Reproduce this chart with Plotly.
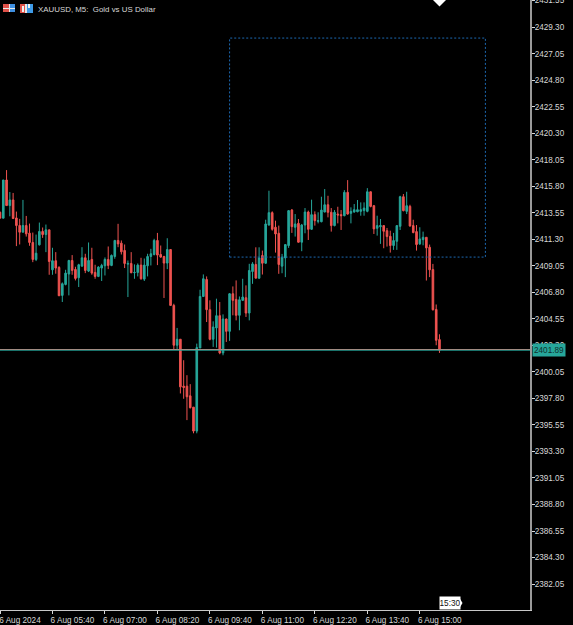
import pandas as pd
import plotly.graph_objects as go

opens = [2413.59,2413.09,2416.33,2414.16,2414.64,2413.11,2412.47,2411.90,2412.47,2411.82,2411.03,2409.59,2410.83,2411.96,2411.70,2412.10,2408.71,2409.48,2408.91,2406.54,
2407.47,2408.35,2409.50,2408.74,2408.04,2409.02,2409.73,2408.60,2409.59,2408.49,2408.15,2408.86,2409.05,2409.59,2409.08,2409.84,2411.20,2410.97,2410.35,2409.19,
2409.25,2408.46,2408.49,2409.11,2407.92,2409.05,2409.84,2410.01,2411.20,2410.01,2409.84,2409.28,2410.43,2405.69,2402.31,2402.82,2398.84,2398.84,2398.02,2397.06,
2395.03,2402.08,2406.45,2407.89,2405.33,2402.82,2403.78,2404.82,2401.66,2404.54,2403.49,2406.68,2406.20,2404.85,2406.12,2406.34,2405.04,2408.57,2409.16,2408.00,
2409.92,2409.27,2412.51,2413.56,2412.32,2411.81,2409.02,2409.72,2410.77,2413.78,2412.32,2412.65,2411.05,2412.51,2413.61,2412.15,2413.39,2412.82,2412.79,2413.61,
2414.23,2413.59,2412.46,2413.44,2413.39,2413.30,2415.28,2413.50,2413.61,2413.64,2413.67,2413.73,2413.67,2415.33,2414.15,2412.23,2412.37,2412.46,2412.03,2411.55,
2410.77,2411.13,2412.40,2414.91,2413.67,2414.09,2412.46,2411.95,2410.91,2411.27,2411.47,2410.62,2408.73,2405.35,2402.79]
highs = [2413.65,2416.33,2417.17,2415.31,2415.23,2413.65,2413.03,2414.64,2413.28,2412.63,2411.87,2411.70,2412.72,2412.30,2412.55,2412.10,2410.58,2410.21,2409.02,2407.64,
2408.71,2409.56,2409.96,2408.97,2409.22,2410.63,2410.07,2411.03,2410.58,2409.14,2409.02,2409.22,2409.76,2410.69,2410.01,2411.25,2412.61,2411.20,2410.86,2409.50,
2410.21,2409.17,2409.25,2409.73,2409.67,2410.07,2410.49,2411.34,2411.84,2410.77,2409.90,2411.39,2410.43,2405.83,2403.78,2402.82,2401.04,2399.77,2399.01,2397.06,
2402.45,2407.02,2408.32,2408.15,2406.12,2404.34,2406.26,2405.98,2404.93,2404.57,2406.74,2407.30,2407.81,2406.45,2407.95,2407.39,2409.22,2409.36,2410.62,2410.62,
2410.34,2412.96,2415.42,2413.67,2412.88,2412.46,2410.06,2410.85,2413.78,2413.87,2413.44,2413.02,2412.60,2413.95,2413.73,2414.66,2413.67,2413.59,2414.91,2415.56,
2414.99,2413.95,2413.78,2414.06,2413.78,2415.47,2416.32,2414.01,2414.29,2414.63,2414.43,2414.43,2415.64,2415.36,2414.21,2413.30,2413.02,2412.46,2412.26,2412.03,
2411.84,2412.46,2414.99,2415.14,2415.33,2414.23,2412.96,2412.51,2412.32,2411.95,2411.47,2410.85,2409.21,2405.77,2403.24]
lows = [2413.09,2413.09,2414.16,2413.25,2413.03,2410.72,2410.86,2411.90,2411.53,2410.75,2409.36,2409.45,2410.77,2411.42,2410.21,2408.29,2408.29,2408.38,2406.49,2405.98,
2407.39,2406.54,2408.29,2407.81,2407.25,2408.99,2408.43,2408.52,2408.29,2407.95,2408.09,2407.76,2408.23,2408.77,2409.02,2409.65,2410.63,2410.01,2408.86,2406.40,
2408.43,2407.95,2408.15,2407.87,2407.76,2408.15,2409.08,2409.93,2409.11,2409.73,2406.32,2408.77,2405.69,2401.94,2401.94,2398.22,2397.77,2395.96,2396.95,2394.84,
2394.84,2402.08,2406.40,2404.28,2402.73,2402.17,2402.11,2401.55,2401.46,2402.59,2402.68,2404.85,2404.42,2403.58,2406.06,2404.71,2404.42,2407.52,2408.00,2407.95,
2408.31,2409.21,2412.46,2412.03,2410.17,2408.37,2408.42,2408.09,2410.57,2411.84,2411.53,2411.02,2410.29,2411.81,2411.24,2412.09,2412.46,2412.65,2412.74,2413.59,
2413.16,2411.95,2412.40,2412.65,2412.09,2413.25,2413.39,2412.65,2413.56,2413.59,2413.30,2413.30,2413.59,2414.01,2411.75,2411.61,2410.91,2410.54,2410.68,2410.17,
2410.40,2410.40,2412.09,2413.67,2413.44,2412.37,2411.81,2410.34,2410.82,2410.79,2407.80,2408.09,2405.26,2402.31,2401.66]
closes = [2413.09,2416.33,2414.16,2414.64,2413.06,2412.47,2411.90,2412.47,2411.76,2411.03,2409.59,2410.12,2411.96,2411.70,2412.10,2409.42,2409.48,2408.86,2406.51,2407.53,
2408.43,2409.50,2408.66,2407.98,2409.14,2409.73,2408.66,2409.50,2408.43,2408.15,2408.94,2409.08,2409.59,2409.08,2409.93,2411.20,2410.91,2410.24,2409.25,2409.25,
2408.46,2408.49,2409.11,2407.95,2409.11,2409.84,2410.07,2411.20,2409.96,2409.79,2409.28,2410.43,2405.69,2402.31,2402.82,2398.78,2398.73,2397.94,2397.01,2395.03,
2402.11,2406.45,2407.95,2405.33,2402.82,2403.86,2404.82,2401.66,2404.54,2403.49,2406.68,2406.12,2404.85,2406.17,2406.40,2405.04,2408.65,2409.21,2408.00,2409.72,
2409.27,2412.60,2413.56,2412.15,2411.75,2409.16,2409.78,2410.85,2413.73,2412.37,2412.60,2411.05,2412.51,2413.61,2412.15,2413.39,2412.88,2412.88,2413.78,2414.23,
2413.59,2412.46,2413.59,2413.36,2413.30,2415.28,2413.44,2413.67,2413.81,2413.81,2413.81,2413.95,2415.33,2414.09,2412.18,2412.46,2412.46,2411.98,2411.53,2410.77,
2411.19,2412.46,2414.91,2413.73,2414.15,2412.43,2411.87,2410.85,2411.33,2411.47,2410.57,2408.71,2405.32,2402.73,2401.89]

times = pd.date_range("2024-08-06 04:20", periods=len(closes), freq="5min")
tick_times = ["2024-08-06 04:20","2024-08-06 05:40","2024-08-06 07:00","2024-08-06 08:20",
              "2024-08-06 09:40","2024-08-06 11:00","2024-08-06 12:20","2024-08-06 13:40","2024-08-06 15:00"]
tick_labels = ["6 Aug 2024","6 Aug 05:40","6 Aug 07:00","6 Aug 08:20","6 Aug 09:40",
               "6 Aug 11:00","6 Aug 12:20","6 Aug 13:40","6 Aug 15:00"]
price_ticks = [2431.55,2429.30,2427.05,2424.80,2422.55,2420.30,2418.05,2415.80,2413.55,2411.30,2409.05,
               2406.80,2404.55,2402.30,2400.05,2397.80,2395.55,2393.30,2391.05,2388.80,2386.55,2384.30,2382.05]
last_price = 2401.89
ask_price = 2401.95
zone_start, zone_end = "2024-08-06 10:10", "2024-08-06 16:40"
zone_top, zone_bottom = 2428.37, 2409.79

W, H = 573, 625
PW, PH = 530, 610
TEAL, RED, GREY, TXT = "#26a69a", "#ef5350", "#9a9a9a", "#d8d8d8"
FONT = "Liberation Sans"
FS = 8.2

def px(x): return x / PW
def py(y): return 1 - y / PH

fig = go.Figure()
fig.add_trace(go.Candlestick(
    x=times, open=opens, high=highs, low=lows, close=closes,
    increasing=dict(line=dict(color=TEAL, width=1), fillcolor=TEAL),
    decreasing=dict(line=dict(color=RED, width=1), fillcolor=RED),
    whiskerwidth=0, hoverinfo="skip", showlegend=False))
fig.add_trace(go.Scatter(x=[times[-1]], y=[2431.6], mode="markers", hoverinfo="skip", showlegend=False,
                         marker=dict(symbol="diamond", size=10, color="white")))

shapes = [
    dict(type="rect", x0=zone_start, x1=zone_end, y0=zone_bottom, y1=zone_top, xref="x", yref="y",
         line=dict(color="#1c68b0", width=1, dash="2px,2px"), fillcolor="rgba(0,0,0,0)"),
    dict(type="line", xref="paper", x0=0, x1=1, yref="y", y0=ask_price, y1=ask_price, line=dict(color="#d98078", width=1)),
    dict(type="line", xref="paper", x0=0, x1=1, yref="y", y0=last_price, y1=last_price, line=dict(color=TEAL, width=1)),
]
def box(x0, y0, x1, y1, color):
    shapes.append(dict(type="rect", xref="paper", yref="paper", x0=px(x0), x1=px(x1), y0=py(y1), y1=py(y0),
                       fillcolor=color, line=dict(width=0), layer="above"))
# header icons
box(3, 4, 15, 12, "#e8e8e8"); box(3, 4, 9, 8, "#e0524a"); box(3, 9, 9, 12, "#e0524a")
box(10, 4, 15, 8, "#3f8fe0"); box(10, 9, 15, 12, "#3f8fe0")
box(20, 4, 33, 13, "#e8e8e8"); box(20, 4, 25, 13, "#e0524a"); box(22, 6, 24, 12, "#f0f0f0")
box(27, 4, 33, 13, "#3f9be8"); box(28, 4, 30, 8, "#f0f0f0")
# time flag tip
shapes.append(dict(type="path", xref="paper", yref="paper", layer="above", fillcolor="white", line=dict(width=0),
                   path=f"M {px(459)} {py(597)} L {px(462.5)} {py(603)} L {px(459)} {py(609)} Z"))

annotations = [
    dict(text="XAUUSD, M5:  Gold vs US Dollar", xref="paper", yref="paper", x=px(37), y=py(9), xanchor="left",
         yanchor="middle", showarrow=False, xshift=-1, font=dict(family=FONT, size=7.9, color=TXT)),
    dict(text=f"{last_price:.2f}", xref="paper", yref="y", x=1, xshift=2, y=last_price, xanchor="left", yanchor="middle",
         showarrow=False, bgcolor=TEAL, borderpad=0, width=32, height=12, font=dict(family=FONT, size=FS, color="#10302c")),
    dict(text="15:30", xref="x", yref="paper", x=times[-1], xshift=0, y=py(603), xanchor="left", yanchor="middle",
         showarrow=False, bgcolor="white", borderpad=0, width=20, height=12, font=dict(family=FONT, size=FS, color="#111111")),
]

fig.update_layout(
    width=W, height=H, margin=dict(l=0, r=W - PW, t=0, b=H - PH),
    paper_bgcolor="black", plot_bgcolor="black", showlegend=False,
    shapes=shapes, annotations=annotations, hovermode=False,
    font=dict(family=FONT, size=FS, color=TXT),
    xaxis=dict(type="date", range=["2024-08-06 04:20", "2024-08-06 17:48"], rangeslider=dict(visible=False),
               tickmode="array", tickvals=tick_times, ticktext=tick_labels, ticks="outside", ticklen=3,
               tickcolor=TXT, showgrid=False, zeroline=False, showline=True, linecolor="#c8c8c8", linewidth=1,
               ticklabelshift=20, ticklabeloverflow="allow", ticklabelstandoff=-1, tickangle=0, automargin=False,
               tickfont=dict(family=FONT, size=FS, color=TXT)),
    yaxis=dict(side="right", range=[2379.85, 2431.6], tickmode="array", tickvals=price_ticks,
               ticktext=[f"{v:.2f}" for v in price_ticks], ticks="outside", ticklen=3, tickcolor=TXT,
               showgrid=False, zeroline=False, showline=True, linecolor=GREY, linewidth=2, automargin=False,
               ticklabelstandoff=-2, ticklabeloverflow="allow", tickfont=dict(family=FONT, size=FS, color=TXT)),
)
fig.write_html("out.html", config=dict(displayModeBar=False),
               post_script="document.body.style.margin='0';document.body.style.background='black';document.documentElement.style.overflow='hidden';")
